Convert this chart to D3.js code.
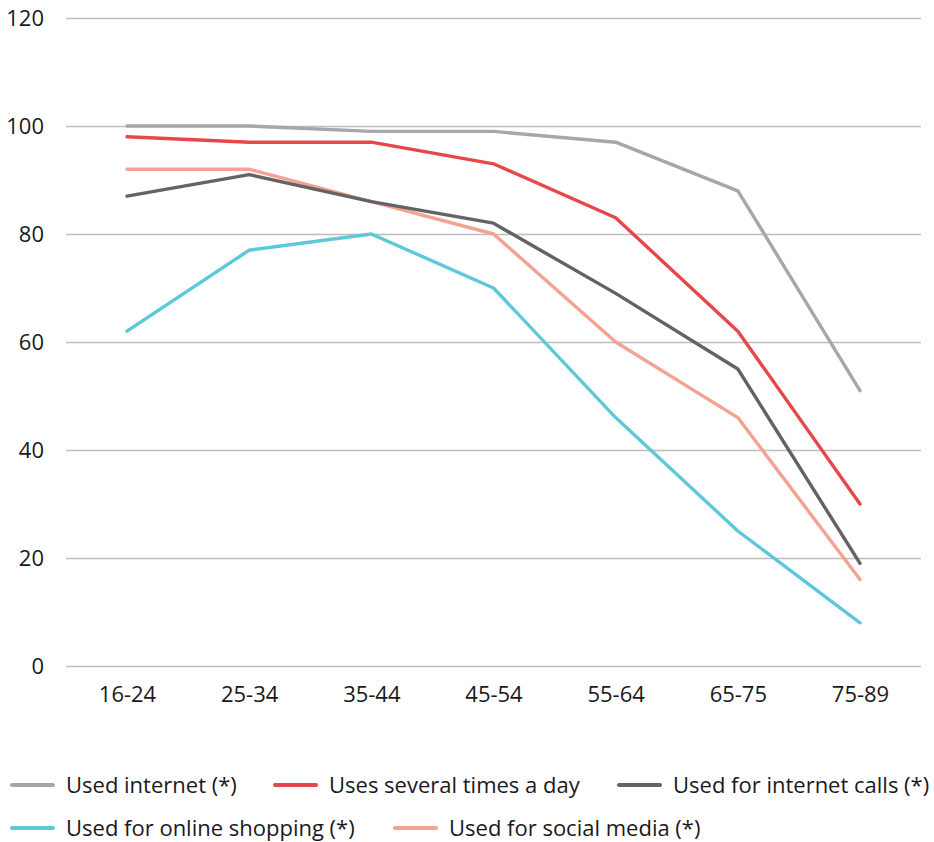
<!DOCTYPE html>
<html><head><meta charset="utf-8">
<script src="https://cdn.jsdelivr.net/npm/d3@7"></script>
<style>body{margin:0;background:#fff}svg{display:block}text{font-family:"Open Sans",Lato,sans-serif;fill:#1a1a1a}</style>
</head><body><svg id="c" width="934" height="842"></svg>
<script>
const categories = ["16-24","25-34","35-44","45-54","55-64","65-75","75-89"];
const seriesNames = ["Used internet (*)","Uses several times a day","Used for internet calls (*)","Used for online shopping (*)","Used for social media (*)"];
const usedInternet = [100,100,99,99,97,88,51];
const severalTimesDay = [98,97,97,93,83,62,30];
const internetCalls = [87,91,86,82,69,55,19];
const onlineShopping = [62,77,80,70,46,25,8];
const socialMedia = [92,92,86,80,60,46,16];
const yTicks = [0,20,40,60,80,100,120];
const colors = ["#a7a7aa","#e8474a","#636366","#5ec8db","#f4a393"];

(function(){
const values = [usedInternet, severalTimesDay, internetCalls, onlineShopping, socialMedia];
const svg = d3.select("#c");
const pLeft = 66, pRight = 921, pTop = 18, pBottom = 666;
const x = d3.scalePoint().domain(categories).range([127, 860]);
const y = d3.scaleLinear().domain([0,120]).range([pBottom, pTop]);

const yAxis = d3.axisLeft(y).tickValues(yTicks).tickSize(-(pRight-pLeft)).tickPadding(22).tickFormat(d3.format("d"));
const gy = svg.append("g").attr("transform",`translate(${pLeft},0)`).call(yAxis);
gy.select(".domain").remove();
gy.selectAll(".tick line").attr("stroke","#bdbdbd").attr("stroke-width",1.3);
gy.selectAll(".tick text").attr("font-size",22).attr("fill","#1a1a1a").attr("dy","0.35em");

const xAxis = d3.axisBottom(x).tickSize(0).tickPadding(20);
const gx = svg.append("g").attr("transform",`translate(0,${pBottom})`).call(xAxis);
gx.select(".domain").remove();
gx.selectAll(".tick text").attr("font-size",22).attr("fill","#1a1a1a").attr("dy","0.71em");

const line = d3.line().x((d,i)=>x(categories[i])).y(d=>y(d));
[3,4,2,1,0].forEach(k=>{
  svg.append("path").datum(values[k]).attr("d",line).attr("fill","none")
    .attr("stroke",colors[k]).attr("stroke-width",3.4).attr("stroke-linejoin","round").attr("stroke-linecap","round");
});

const legendPos = [[12,785],[275,785],[619,785],[12,828],[395,828]];
seriesNames.forEach((n,k)=>{
  const g = svg.append("g").attr("transform",`translate(${legendPos[k][0]},${legendPos[k][1]})`);
  g.append("line").attr("x1",0).attr("x2",41).attr("y1",0).attr("y2",0).attr("stroke",colors[k]).attr("stroke-width",4).attr("stroke-linecap","round");
  g.append("text").attr("x",54).attr("y",0).attr("dy","0.35em").attr("font-size",22).text(n);
});
})();
</script></body></html>
